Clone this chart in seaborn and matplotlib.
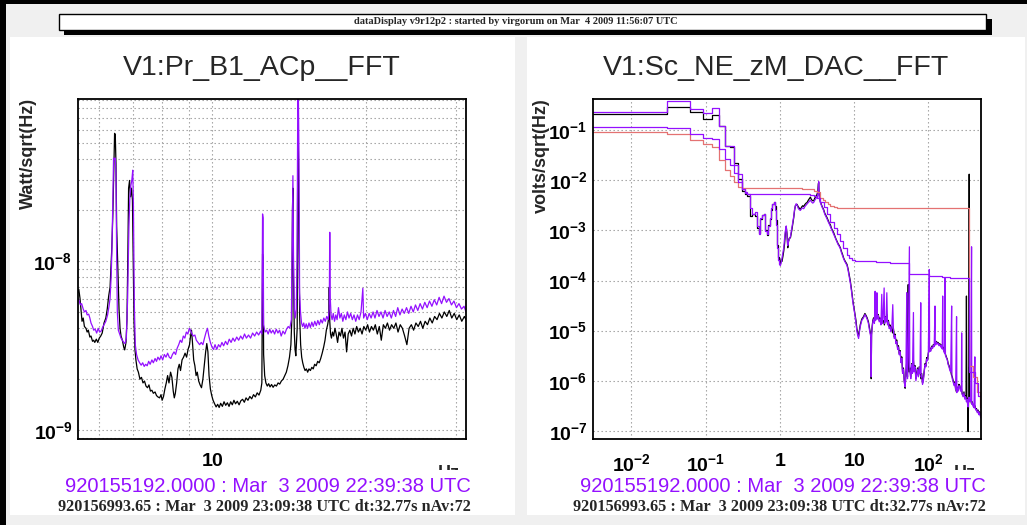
import numpy as np
import pandas as pd
import matplotlib
matplotlib.use("Agg")
import matplotlib.pyplot as plt
import seaborn as sns
from matplotlib.ticker import FixedLocator, LogLocator, NullFormatter, FuncFormatter
from matplotlib.patches import Rectangle

# ---------------- data: left panel (V1:Pr_B1_ACp__FFT) ----------------
left_black_freq = [5.47, 5.49, 5.52, 5.54, 5.57, 5.60, 5.63, 5.67, 5.70, 5.73, 5.77, 5.80, 5.84, 5.87, 5.90,
    5.94, 5.98, 6.02, 6.06, 6.10, 6.15, 6.20, 6.24, 6.28, 6.32, 6.35, 6.37, 6.40, 6.42, 6.45, 6.47, 6.49,
    6.51, 6.55, 6.58, 6.61, 6.64, 6.68, 6.72, 6.75, 6.79, 6.82, 6.85, 6.87, 6.90, 6.93, 6.96, 6.99, 7.02,
    7.04, 7.07, 7.10, 7.14, 7.18, 7.23, 7.28, 7.33, 7.38, 7.43, 7.48, 7.53, 7.58, 7.63, 7.68, 7.74, 7.79,
    7.84, 7.90, 7.95, 7.99, 8.04, 8.09, 8.14, 8.19, 8.24, 8.30, 8.35, 8.40, 8.44, 8.48, 8.53, 8.58, 8.63,
    8.68, 8.74, 8.80, 8.86, 8.92, 8.98, 9.04, 9.08, 9.12, 9.16, 9.21, 9.26, 9.31, 9.36, 9.42, 9.48, 9.54,
    9.60, 9.66, 9.72, 9.77, 9.82, 9.87, 9.93, 9.99, 10.05, 10.12, 10.19, 10.26, 10.33, 10.40, 10.48, 10.56,
    10.64, 10.72, 10.80, 10.88, 10.96, 11.04, 11.12, 11.21, 11.30, 11.39, 11.48, 11.57, 11.66, 11.76,
    11.86, 11.96, 12.06, 12.16, 12.26, 12.36, 12.46, 12.52, 12.56, 12.59, 12.62, 12.68, 12.75, 12.83,
    12.91, 12.99, 13.08, 13.17, 13.27, 13.37, 13.47, 13.57, 13.67, 13.78, 13.88, 13.98, 14.08, 14.18,
    14.27, 14.33, 14.37, 14.40, 14.44, 14.49, 14.54, 14.59, 14.64, 14.68, 14.72, 14.76, 14.80, 14.85,
    14.91, 14.98, 15.05, 15.13, 15.21, 15.30, 15.39, 15.48, 15.58, 15.68, 15.78, 15.88, 15.99, 16.10,
    16.21, 16.32, 16.43, 16.54, 16.64, 16.74, 16.84, 16.92, 16.96, 17.00, 17.06, 17.13, 17.21, 17.30,
    17.40, 17.50, 17.61, 17.72, 17.84, 17.96, 18.08, 18.21, 18.34, 18.47, 18.61, 18.75, 18.89, 19.04,
    19.19, 19.34, 19.50, 19.66, 19.82, 19.99, 20.16, 20.33, 20.51, 20.69, 20.87, 21.06, 21.25, 21.44,
    21.64, 21.84, 22.04, 22.25, 22.46, 22.68, 22.90, 23.12, 23.35, 23.58, 23.82, 24.06, 24.30, 24.55,
    24.80, 25.06, 25.32, 25.58, 25.85, 26.12, 26.40, 26.68, 26.97, 27.26, 27.56, 27.86, 28.17, 28.48,
    28.80, 29.12, 29.45, 29.78, 30.12, 30.46, 30.81, 31.17, 31.40]
left_black_amp = [6.5e-9, 6.8e-9, 6.0e-9, 5.3e-9, 4.4e-9, 4.6e-9, 4.1e-9, 4.0e-9, 3.8e-9, 3.9e-9, 3.55e-9,
    3.6e-9, 3.35e-9, 3.4e-9, 3.3e-9, 3.45e-9, 3.3e-9, 3.5e-9, 3.6e-9, 3.75e-9, 4.3e-9, 4.6e-9, 5.2e-9,
    6.2e-9, 7.0e-9, 9.5e-9, 1.2e-8, 1.9e-8, 3.0e-8, 5.7e-8, 5.6e-8, 3.8e-8, 1.6e-8, 8.3e-9, 5.2e-9,
    4.0e-9, 3.6e-9, 3.4e-9, 3.1e-9, 2.98e-9, 3.3e-9, 4.5e-9, 1.2e-8, 2.7e-8, 3.0e-8, 2.4e-8, 2.7e-8,
    2.3e-8, 9.0e-9, 4.36e-9, 3.0e-9, 2.6e-9, 2.3e-9, 2.2e-9, 2.0e-9, 2.05e-9, 1.9e-9, 1.95e-9, 1.82e-9,
    1.78e-9, 1.85e-9, 1.7e-9, 1.72e-9, 1.65e-9, 1.68e-9, 1.6e-9, 1.57e-9, 1.55e-9, 1.62e-9, 1.50e-9,
    1.58e-9, 1.75e-9, 1.9e-9, 2.1e-9, 1.9e-9, 2.2e-9, 2.05e-9, 1.7e-9, 1.55e-9, 1.65e-9, 1.9e-9, 2.3e-9,
    2.45e-9, 2.25e-9, 2.6e-9, 2.7e-9, 2.85e-9, 2.7e-9, 3.0e-9, 3.2e-9, 3.6e-9, 3.9e-9, 3.3e-9, 2.6e-9,
    2.4e-9, 2.1e-9, 2.2e-9, 1.95e-9, 1.85e-9, 1.78e-9, 2.0e-9, 2.4e-9, 2.9e-9, 3.25e-9, 2.9e-9, 2.1e-9,
    1.75e-9, 1.6e-9, 1.5e-9, 1.43e-9, 1.37e-9, 1.42e-9, 1.36e-9, 1.44e-9, 1.38e-9, 1.47e-9, 1.40e-9,
    1.45e-9, 1.38e-9, 1.47e-9, 1.41e-9, 1.50e-9, 1.43e-9, 1.48e-9, 1.41e-9, 1.49e-9, 1.52e-9, 1.46e-9,
    1.55e-9, 1.50e-9, 1.58e-9, 1.53e-9, 1.62e-9, 1.57e-9, 1.66e-9, 1.61e-9, 1.72e-9, 1.9e-9, 1.1e-8,
    1.05e-8, 2.8e-9, 2.1e-9, 1.9e-9, 1.82e-9, 1.88e-9, 1.8e-9, 1.86e-9, 1.79e-9, 1.85e-9, 1.82e-9, 1.9e-9,
    1.87e-9, 1.95e-9, 2.0e-9, 2.1e-9, 2.2e-9, 2.4e-9, 2.7e-9, 3.2e-9, 4.5e-9, 2.0e-8, 2.7e-8, 8.0e-9,
    3.8e-9, 3.0e-9, 2.75e-9, 3.4e-9, 4.0e-9, 5.6e-8, 4.5e-8, 1.2e-8, 4.5e-9, 3.2e-9, 2.7e-9, 2.5e-9,
    2.35e-9, 2.25e-9, 2.3e-9, 2.2e-9, 2.3e-9, 2.25e-9, 2.35e-9, 2.3e-9, 2.45e-9, 2.4e-9, 2.55e-9, 2.5e-9,
    2.65e-9, 2.85e-9, 3.1e-9, 3.4e-9, 3.9e-9, 4.2e-9, 4.6e-9, 7.0e-9, 4.4e-9, 3.7e-9, 3.5e-9, 3.8e-9,
    3.6e-9, 4.0e-9, 3.7e-9, 3.3e-9, 3.8e-9, 3.6e-9, 4.0e-9, 3.5e-9, 3.8e-9, 2.9e-9, 3.7e-9, 3.9e-9,
    3.6e-9, 4.0e-9, 3.7e-9, 4.1e-9, 3.8e-9, 4.0e-9, 3.7e-9, 4.1e-9, 3.9e-9, 4.2e-9, 3.8e-9, 4.1e-9,
    3.9e-9, 4.2e-9, 3.7e-9, 4.1e-9, 3.4e-9, 4.2e-9, 4.0e-9, 4.3e-9, 3.9e-9, 4.2e-9, 4.0e-9, 4.3e-9,
    3.8e-9, 4.2e-9, 4.0e-9, 3.6e-9, 3.2e-9, 4.0e-9, 4.2e-9, 3.9e-9, 4.3e-9, 4.1e-9, 4.4e-9, 4.0e-9,
    4.4e-9, 4.2e-9, 4.6e-9, 4.3e-9, 4.7e-9, 4.5e-9, 4.9e-9, 4.6e-9, 5.0e-9, 4.7e-9, 5.1e-9, 4.6e-9,
    4.9e-9, 4.5e-9, 4.8e-9, 4.4e-9, 4.7e-9, 4.5e-9]

left_purple_freq = [5.47, 5.50, 5.53, 5.56, 5.60, 5.63, 5.67, 5.70, 5.74, 5.77, 5.80, 5.84, 5.87, 5.91,
    5.95, 5.99, 6.03, 6.07, 6.11, 6.15, 6.20, 6.25, 6.29, 6.32, 6.35, 6.37, 6.40, 6.42, 6.45, 6.47, 6.49,
    6.51, 6.53, 6.56, 6.60, 6.64, 6.68, 6.72, 6.76, 6.80, 6.84, 6.88, 6.91, 6.94, 6.97, 7.00, 7.02, 7.05,
    7.08, 7.12, 7.17, 7.22, 7.27, 7.32, 7.37, 7.42, 7.47, 7.52, 7.57, 7.63, 7.68, 7.74, 7.79, 7.84, 7.90,
    7.95, 8.01, 8.07, 8.13, 8.19, 8.25, 8.31, 8.37, 8.43, 8.49, 8.55, 8.61, 8.67, 8.73, 8.79, 8.85, 8.91,
    8.97, 9.03, 9.08, 9.14, 9.20, 9.26, 9.32, 9.39, 9.46, 9.53, 9.60, 9.67, 9.74, 9.80, 9.86, 9.93, 10.00,
    10.07, 10.14, 10.22, 10.30, 10.38, 10.46, 10.54, 10.63, 10.72, 10.81, 10.90, 10.99, 11.08, 11.18,
    11.28, 11.38, 11.48, 11.58, 11.68, 11.79, 11.90, 12.01, 12.12, 12.23, 12.34, 12.45, 12.52, 12.56,
    12.59, 12.62, 12.70, 12.79, 12.88, 12.97, 13.06, 13.16, 13.26, 13.36, 13.46, 13.56, 13.66, 13.77,
    13.88, 13.99, 14.10, 14.20, 14.30, 14.36, 14.40, 14.44, 14.49, 14.55, 14.62, 14.67, 14.72, 14.76,
    14.80, 14.84, 14.90, 14.97, 15.04, 15.12, 15.20, 15.29, 15.38, 15.48, 15.58, 15.68, 15.78, 15.89,
    16.00, 16.11, 16.22, 16.33, 16.44, 16.55, 16.66, 16.77, 16.88, 16.96, 17.00, 17.04, 17.10, 17.18,
    17.27, 17.37, 17.47, 17.57, 17.68, 17.79, 17.91, 18.03, 18.15, 18.28, 18.41, 18.54, 18.68, 18.82,
    18.96, 19.11, 19.26, 19.41, 19.57, 19.73, 19.80, 19.96, 20.13, 20.30, 20.48, 20.66, 20.84, 21.03,
    21.22, 21.41, 21.61, 21.81, 22.01, 22.22, 22.43, 22.65, 22.87, 23.09, 23.32, 23.55, 23.78, 24.02,
    24.26, 24.51, 24.76, 25.01, 25.27, 25.54, 25.81, 26.08, 26.36, 26.64, 26.93, 27.22, 27.52, 27.82,
    28.13, 28.44, 28.76, 29.08, 29.41, 29.74, 30.08, 30.42, 30.77, 31.12, 31.40]
left_purple_amp = [6.0e-9, 5.8e-9, 5.5e-9, 5.6e-9, 5.2e-9, 5.0e-9, 5.1e-9, 4.8e-9, 4.85e-9, 4.6e-9, 4.3e-9,
    4.1e-9, 3.9e-9, 3.95e-9, 3.75e-9, 4.0e-9, 3.8e-9, 3.85e-9, 4.05e-9, 4.2e-9, 4.4e-9, 4.8e-9, 5.4e-9,
    6.0e-9, 8.0e-9, 1.1e-8, 2.3e-8, 4.07e-8, 4.0e-8, 4.07e-8, 3.3e-8, 1.1e-8, 5.0e-9, 3.9e-9, 3.7e-9,
    3.5e-9, 3.4e-9, 3.3e-9, 3.25e-9, 3.5e-9, 6.0e-9, 1.6e-8, 2.4e-8, 2.8e-8, 3.0e-8, 3.45e-8, 2.2e-8,
    5.5e-9, 3.2e-9, 2.8e-9, 2.6e-9, 2.5e-9, 2.42e-9, 2.5e-9, 2.38e-9, 2.45e-9, 2.4e-9, 2.55e-9, 2.45e-9,
    2.6e-9, 2.5e-9, 2.65e-9, 2.55e-9, 2.7e-9, 2.6e-9, 2.75e-9, 2.6e-9, 2.8e-9, 2.7e-9, 2.85e-9, 2.7e-9,
    2.65e-9, 2.8e-9, 2.9e-9, 2.8e-9, 3.05e-9, 3.2e-9, 3.4e-9, 3.3e-9, 3.6e-9, 3.5e-9, 3.8e-9, 3.7e-9,
    4.0e-9, 3.9e-9, 3.7e-9, 3.6e-9, 3.65e-9, 3.4e-9, 3.3e-9, 3.2e-9, 3.3e-9, 3.2e-9, 3.5e-9, 3.8e-9,
    4.0e-9, 3.6e-9, 3.3e-9, 3.1e-9, 3.0e-9, 3.2e-9, 3.0e-9, 3.2e-9, 3.1e-9, 3.3e-9, 3.15e-9, 3.35e-9,
    3.2e-9, 3.45e-9, 3.3e-9, 3.5e-9, 3.35e-9, 3.55e-9, 3.4e-9, 3.6e-9, 3.45e-9, 3.7e-9, 3.5e-9, 3.65e-9,
    3.5e-9, 3.75e-9, 3.6e-9, 3.8e-9, 3.65e-9, 3.85e-9, 3.7e-9, 1.9e-8, 1.8e-8, 4.2e-9, 3.8e-9, 3.9e-9,
    3.7e-9, 3.95e-9, 3.75e-9, 3.9e-9, 3.7e-9, 3.95e-9, 3.75e-9, 3.9e-9, 3.6e-9, 3.85e-9, 3.7e-9, 3.95e-9,
    4.1e-9, 4.0e-9, 4.5e-9, 1.5e-8, 3.2e-8, 1.0e-8, 5.2e-9, 4.6e-9, 5.2e-9, 1.0e-8, 9.5e-8, 9.5e-8,
    4.0e-8, 6.5e-9, 5.0e-9, 4.3e-9, 4.1e-9, 4.3e-9, 4.0e-9, 4.25e-9, 4.0e-9, 4.3e-9, 4.05e-9, 4.35e-9,
    4.1e-9, 4.4e-9, 4.15e-9, 4.45e-9, 4.2e-9, 4.5e-9, 4.3e-9, 4.6e-9, 4.4e-9, 4.7e-9, 4.5e-9, 5.2e-9,
    1.48e-8, 6.0e-9, 4.8e-9, 4.5e-9, 4.9e-9, 4.4e-9, 4.8e-9, 4.5e-9, 5.3e-9, 4.6e-9, 4.9e-9, 4.4e-9,
    4.8e-9, 4.5e-9, 5.0e-9, 4.6e-9, 4.9e-9, 4.5e-9, 4.8e-9, 4.4e-9, 4.8e-9, 4.5e-9, 5.0e-9, 6.9e-9,
    4.6e-9, 4.9e-9, 4.5e-9, 4.9e-9, 4.6e-9, 5.0e-9, 4.6e-9, 5.1e-9, 4.7e-9, 5.0e-9, 4.6e-9, 5.1e-9,
    4.7e-9, 5.0e-9, 4.6e-9, 5.1e-9, 4.7e-9, 5.3e-9, 4.8e-9, 5.2e-9, 4.9e-9, 5.3e-9, 4.9e-9, 5.4e-9,
    5.0e-9, 5.5e-9, 5.1e-9, 5.6e-9, 5.2e-9, 5.7e-9, 5.3e-9, 5.8e-9, 5.4e-9, 5.9e-9, 5.5e-9, 6.1e-9,
    5.6e-9, 6.2e-9, 5.7e-9, 6.0e-9, 5.5e-9, 5.8e-9, 5.3e-9, 5.6e-9, 5.2e-9, 5.4e-9, 5.0e-9]

# ---------------- data: right panel (V1:Sc_NE_zM_DAC__FFT) ----------------
right_black_freq = [0.00305, 0.0305, 0.0610, 0.0916, 0.1221, 0.1526, 0.1831, 0.2136, 0.2441, 0.2747,
    0.3052, 0.3357, 0.3662, 0.3967, 0.4272, 0.4578, 0.4883, 0.5188, 0.549, 0.580, 0.610, 0.641, 0.671,
    0.702, 0.732, 0.763, 0.793, 0.824, 0.854, 0.885, 0.916, 0.946, 0.977, 1.007, 1.04, 1.07, 1.10, 1.13,
    1.16, 1.19, 1.22, 1.25, 1.28, 1.31, 1.34, 1.39, 1.45, 1.50, 1.54, 1.58, 1.62, 1.66, 1.71, 1.76, 1.82,
    1.89, 1.96, 2.03, 2.10, 2.18, 2.26, 2.33, 2.42, 2.50, 2.58, 2.67, 2.77, 2.86, 2.96, 3.06, 3.17, 3.25,
    3.30, 3.34, 3.38, 3.45, 3.51, 3.62, 3.75, 3.89, 4.03, 4.17, 4.32, 4.47, 4.63, 4.79, 4.96, 5.13, 5.31,
    5.50, 5.69, 5.89, 6.10, 6.31, 6.53, 6.76, 7.00, 7.24, 7.50, 7.76, 8.03, 8.31, 8.60, 8.90, 9.25, 9.65,
    10.0, 10.35, 10.6, 10.9, 11.2, 11.5, 11.8, 12.1, 12.7, 13.4, 14.0, 14.5, 15.0, 15.6, 16.0, 16.4, 16.8,
    17.0, 17.2, 17.5, 17.9, 18.3, 18.8, 19.3, 19.7, 20.2, 20.7, 21.2, 21.8, 22.4, 23.0, 23.6, 24.3, 24.9,
    25.6, 26.3, 27.0, 27.5, 28.2, 29.0, 29.7, 30.5, 31.3, 32.2, 33.0, 33.9, 34.8, 35.7, 36.6, 37.6, 38.6,
    39.6, 40.6, 41.7, 42.8, 43.9, 45.0, 46.2, 47.4, 48.7, 49.9, 51.2, 52.4, 53.6, 54.2, 55.0, 56.7, 58.1,
    59.6, 61.1, 62.9, 64.6, 66.3, 68.0, 69.7, 71.5, 73.4, 75.3, 77.3, 79.3, 81.4, 83.5, 85.7, 88.0, 90.3,
    92.6, 95.0, 97.5, 100, 103, 105, 108, 111, 114, 117, 120, 123, 126, 129, 132, 136, 139, 143, 147, 150,
    154, 158, 162, 166, 171, 176, 180, 185, 190, 195, 200, 205, 210, 216, 222, 228, 233, 239, 245, 252,
    258, 265, 272, 279, 286, 294, 302, 310, 318, 322, 326, 330, 334, 338, 343, 348, 352, 355, 358, 361,
    372, 381, 391, 401, 412, 423, 434, 445, 457, 469, 481, 493, 505, 512]
right_black_amp = [0.21, 0.29, 0.226, 0.163, 0.203, 0.118, 0.048, 0.045, 0.022, 0.0105, 0.0061, 0.0054,
    0.0048, 0.0019, 0.0021, 0.0019, 0.0011, 0.0009, 0.0017, 0.0020, 0.0021, 0.0010, 0.0008, 0.0013,
    0.0017, 0.0026, 0.0034, 0.0037, 0.0030, 0.0016, 0.00050, 0.00030, 0.00024, 0.00021, 0.00026, 0.00024,
    0.00030, 0.00039, 0.00055, 0.00090, 0.0012, 0.00085, 0.00045, 0.00060, 0.00070, 0.00071, 0.0010,
    0.0014, 0.0018, 0.0025, 0.0031, 0.0032, 0.0033, 0.0030, 0.0028, 0.0026, 0.0029, 0.0031, 0.0030,
    0.0033, 0.0035, 0.0036, 0.0040, 0.0043, 0.0046, 0.0041, 0.0039, 0.0039, 0.0044, 0.0048, 0.0052,
    0.0060, 0.0085, 0.0090, 0.0055, 0.0042, 0.0038, 0.0033, 0.0029, 0.0026, 0.0022, 0.0020, 0.0018,
    0.0016, 0.0014, 0.0013, 0.0011, 0.0010, 0.00090, 0.00078, 0.00068, 0.00061, 0.00054, 0.00050,
    0.00045, 0.00038, 0.00033, 0.00028, 0.00025, 0.00023, 0.00021, 0.00017, 0.00013, 9.8e-5, 6.5e-5,
    3.9e-5, 2.8e-5, 2.1e-5, 1.6e-5, 1.1e-5, 9.0e-6, 7.7e-6, 1.0e-5, 1.3e-5, 1.7e-5, 1.9e-5, 2.2e-5,
    2.0e-5, 1.8e-5, 1.5e-5, 1.2e-5, 9.7e-6, 8.0e-6, 1.1e-6, 8.5e-6, 1.2e-5, 1.6e-5, 1.8e-5, 1.5e-5,
    2.0e-5, 1.7e-5, 2.3e-5, 1.8e-5, 2.1e-5, 1.6e-5, 1.8e-5, 1.4e-5, 1.9e-5, 1.5e-5, 1.6e-5, 1.3e-5,
    1.9e-5, 1.6e-5, 2.1e-5, 1.4e-5, 1.6e-5, 1.2e-5, 1.3e-5, 1.0e-5, 1.2e-5, 9.0e-6, 1.1e-5, 7.5e-6,
    8.5e-6, 6.0e-6, 6.5e-6, 4.5e-6, 5.0e-6, 3.5e-6, 4.0e-6, 2.5e-6, 3.0e-6, 1.5e-6, 1.8e-6, 1.0e-6,
    7.1e-7, 1.5e-6, 2.4e-6, 1.2e-6, 8.3e-5, 2.0e-6, 1.5e-6, 1.8e-6, 1.2e-6, 2.2e-6, 1.5e-6, 2.6e-6,
    1.6e-6, 2.0e-6, 1.1e-6, 1.4e-6, 1.8e-6, 1.3e-6, 1.9e-6, 1.5e-6, 1.1e-6, 1.4e-6, 9.0e-7, 1.1e-6,
    1.6e-6, 2.2e-6, 2.0e-6, 2.9e-6, 2.6e-6, 3.6e-6, 4.0e-6, 4.5e-6, 4.1e-6, 4.9e-6, 4.6e-6, 5.3e-6,
    5.0e-6, 5.8e-6, 5.4e-6, 6.1e-6, 5.6e-6, 5.8e-6, 5.2e-6, 5.5e-6, 4.9e-6, 5.2e-6, 4.5e-6, 4.7e-6,
    4.0e-6, 3.7e-6, 3.3e-6, 2.9e-6, 2.7e-6, 2.2e-6, 2.0e-6, 1.7e-6, 1.6e-6, 1.3e-6, 1.2e-6, 1.0e-6,
    8.5e-7, 9.5e-7, 7.0e-7, 6.0e-7, 7.5e-7, 6.5e-7, 8.5e-7, 8.0e-7, 6.5e-7, 7.0e-7, 5.5e-7, 5.0e-7,
    6.0e-7, 4.5e-7, 5.0e-7, 5.0e-7, 4.9e-5, 4.0e-7, 4.5e-7, 3.5e-7, 9.7e-8, 4.0e-7, 5.0e-7, 0.0132,
    4.5e-7, 4.0e-7, 4.2e-7, 3.5e-7, 3.8e-7, 3.3e-7, 3.0e-7, 3.2e-7, 2.7e-7, 2.8e-7, 2.4e-7, 2.6e-7,
    2.2e-7, 2.4e-7, 2.0e-7, 1.9e-7]

right_purple_freq = [0.00305, 0.0305, 0.0610, 0.0916, 0.1221, 0.1526, 0.1831, 0.2136, 0.2441, 0.2747,
    0.3052, 0.3357, 0.3662, 0.3967, 0.4272, 0.4578, 0.4883, 0.5188, 0.549, 0.580, 0.610, 0.641, 0.671,
    0.702, 0.732, 0.763, 0.793, 0.824, 0.854, 0.885, 0.916, 0.946, 0.977, 1.007, 1.04, 1.07, 1.10, 1.13,
    1.16, 1.19, 1.22, 1.25, 1.28, 1.31, 1.34, 1.39, 1.45, 1.50, 1.54, 1.58, 1.62, 1.66, 1.71, 1.76, 1.82,
    1.89, 1.96, 2.03, 2.10, 2.18, 2.26, 2.33, 2.42, 2.50, 2.58, 2.67, 2.77, 2.86, 2.96, 3.06, 3.17, 3.25,
    3.30, 3.34, 3.38, 3.45, 3.51, 3.62, 3.75, 3.89, 4.03, 4.17, 4.32, 4.47, 4.63, 4.79, 4.96, 5.13, 5.31,
    5.50, 5.69, 5.89, 6.10, 6.31, 6.53, 6.76, 7.00, 7.24, 7.50, 7.76, 8.03, 8.31, 8.60, 8.90, 9.25, 9.65,
    10.0, 10.35, 10.6, 10.9, 11.2, 11.5, 11.8, 12.1, 12.7, 13.4, 14.0, 14.5, 15.0, 15.6, 16.0, 16.4, 16.8,
    17.0, 17.2, 17.5, 17.9, 18.3, 18.8, 19.2, 19.5, 20.0, 20.3, 20.6, 21.2, 21.8, 22.4, 23.0, 23.6, 24.0,
    24.6, 25.4, 25.8, 26.5, 27.0, 27.6, 28.2, 29.0, 29.7, 30.5, 31.3, 32.2, 33.2, 33.9, 34.8, 35.7, 36.6,
    37.6, 38.6, 39.6, 40.6, 41.7, 42.8, 43.9, 45.0, 46.2, 47.4, 48.7, 49.9, 51.2, 51.8, 52.4, 53.6, 55.6,
    56.2, 56.7, 58.1, 59.6, 61.1, 63.0, 63.8, 64.6, 66.3, 68.0, 69.7, 71.5, 73.4, 75.3, 77.3, 79.0, 80.0,
    81.4, 83.5, 85.7, 88.0, 90.3, 92.6, 95.0, 97.5, 100, 103, 104, 105, 108, 111, 114, 117, 120, 123, 124,
    126, 129, 132, 136, 139, 143, 147, 150, 154, 156, 158, 162, 166, 168, 170, 176, 180, 185, 190, 195,
    200, 206, 208, 210, 216, 222, 228, 233, 240, 242, 245, 252, 258, 265, 272, 279, 281, 284, 294, 302,
    310, 318, 326, 334, 338, 343, 348, 352, 358, 361, 372, 382, 384, 391, 401, 412, 423, 426, 434, 445,
    457, 469, 481, 493, 505, 512]
right_purple_amp = [0.226, 0.374, 0.263, 0.216, 0.271, 0.122, 0.0486, 0.0486, 0.020, 0.0132, 0.0066,
    0.0055, 0.0052, 0.0028, 0.0021, 0.0023, 0.0012, 0.00085, 0.0018, 0.0020, 0.0021, 0.00097, 0.00083,
    0.0012, 0.0018, 0.0028, 0.0034, 0.0037, 0.0026, 0.0013, 0.00045, 0.00026, 0.00021, 0.00020, 0.00022,
    0.00028, 0.00035, 0.00045, 0.00070, 0.00100, 0.00122, 0.00080, 0.00050, 0.00061, 0.00065, 0.00075,
    0.0011, 0.0015, 0.0019, 0.0026, 0.0031, 0.0034, 0.0032, 0.0028, 0.0026, 0.0025, 0.0027, 0.0028,
    0.0027, 0.0030, 0.0032, 0.0034, 0.0036, 0.0038, 0.0040, 0.0037, 0.0035, 0.0036, 0.0040, 0.0043,
    0.0046, 0.0050, 0.0070, 0.0094, 0.0052, 0.0040, 0.0036, 0.0032, 0.0028, 0.0025, 0.0021, 0.0019,
    0.0017, 0.0015, 0.00135, 0.0012, 0.00105, 0.00095, 0.00085, 0.00075, 0.00066, 0.00058, 0.00052,
    0.00048, 0.00043, 0.00036, 0.00031, 0.00027, 0.00024, 0.00022, 0.00020, 0.00016, 0.00012, 9.0e-5,
    6.0e-5, 3.6e-5, 2.6e-5, 1.9e-5, 1.4e-5, 1.0e-5, 8.0e-6, 7.0e-6, 9.5e-6, 1.2e-5, 1.6e-5, 1.8e-5,
    2.1e-5, 1.9e-5, 1.7e-5, 1.4e-5, 1.1e-5, 9.0e-6, 7.5e-6, 1.2e-6, 8.0e-6, 1.1e-5, 1.5e-5, 1.7e-5,
    1.4e-5, 6.1e-5, 1.6e-5, 2.1e-5, 5.7e-5, 1.7e-5, 2.0e-5, 1.5e-5, 1.7e-5, 1.3e-5, 5.3e-5, 1.4e-5,
    1.8e-5, 7.1e-5, 1.4e-5, 1.8e-5, 1.5e-5, 5.7e-5, 1.3e-5, 1.5e-5, 1.1e-5, 1.2e-5, 9.5e-6, 1.1e-5,
    3.3e-5, 1.0e-5, 7.0e-6, 8.0e-6, 5.5e-6, 6.0e-6, 4.2e-6, 4.7e-6, 3.3e-6, 3.8e-6, 2.3e-6, 2.8e-6,
    1.4e-6, 1.7e-6, 9.5e-7, 7.5e-7, 1.4e-6, 5.7e-5, 2.2e-6, 1.1e-6, 3.0e-6, 4.7e-4, 1.9e-6, 1.4e-6,
    1.1e-6, 2.1e-6, 1.4e-6, 2.3e-5, 1.5e-6, 1.8e-6, 1.9e-6, 1.0e-6, 1.3e-6, 1.7e-6, 1.2e-6, 1.8e-6,
    1.4e-6, 3.6e-5, 1.2e-6, 1.3e-6, 8.5e-7, 1.0e-6, 1.5e-6, 2.1e-6, 1.9e-6, 2.7e-6, 2.5e-6, 3.4e-6,
    1.66e-4, 3.8e-6, 4.3e-6, 3.9e-6, 4.7e-6, 4.4e-6, 5.1e-6, 4.8e-6, 3.1e-5, 5.2e-6, 5.2e-6, 5.9e-6,
    5.4e-6, 5.6e-6, 5.0e-6, 5.3e-6, 4.7e-6, 5.0e-6, 4.3e-6, 4.9e-5, 4.5e-6, 3.8e-6, 3.5e-6, 1.13e-4,
    3.2e-6, 2.8e-6, 2.6e-6, 2.1e-6, 1.9e-6, 1.6e-6, 1.5e-6, 3.1e-5, 1.2e-6, 1.1e-6, 9.5e-7, 8.0e-7,
    9.0e-7, 6.6e-7, 1.9e-5, 5.8e-7, 7.2e-7, 6.2e-7, 8.0e-7, 7.6e-7, 6.2e-7, 6.6e-7, 9.0e-6, 5.5e-7,
    4.8e-7, 5.7e-7, 4.3e-7, 4.8e-7, 3.8e-7, 4.3e-7, 3.4e-7, 3.0e-7, 3.8e-7, 4.7e-7, 4.3e-7, 3.8e-7,
    4.0e-7, 4.7e-4, 3.4e-7, 3.6e-7, 3.1e-7, 2.9e-7, 3.0e-6, 3.0e-7, 2.6e-7, 2.7e-7, 2.3e-7, 2.5e-7,
    2.1e-7, 2.3e-7, 1.9e-7, 1.8e-7]

right_red_rms_freq = [0.00305, 0.0305, 0.0610, 0.0916, 0.1221, 0.1526, 0.1831, 0.2136, 0.2441, 0.2747,
    0.3052, 0.6, 1.2, 1.7, 2.0, 2.3, 2.58, 2.9, 3.17, 3.5, 3.8, 4.1, 4.5, 4.8, 5.3, 5.9, 10, 100, 355,
    357, 400, 450, 490, 512]
right_red_rms = [0.090, 0.083, 0.063, 0.0525, 0.045, 0.025, 0.0158, 0.0122, 0.0091, 0.0073, 0.0069,
    0.0069, 0.0069, 0.0069, 0.0068, 0.0067, 0.0066, 0.0062, 0.0057, 0.0045, 0.0040, 0.0036, 0.0033,
    0.0031, 0.0029, 0.00284, 0.00284, 0.00284, 0.00284, 2.0e-6, 1.2e-6, 6.0e-7, 3.0e-7, 1.7e-7]

right_purple_rms_freq = [0.00305, 0.0305, 0.0610, 0.0916, 0.1221, 0.1526, 0.1831, 0.2136, 0.2441,
    0.2747, 0.3052, 0.3357, 0.3662, 1.5, 2.0, 2.58, 2.9, 3.17, 3.5, 3.9, 4.3, 4.8, 5.3, 5.9, 6.5, 7.2,
    8.0, 8.6, 9.3, 10.3, 20, 30, 55.6, 103, 151, 195, 355, 357, 420, 470, 505, 512]
right_purple_rms = [0.113, 0.110, 0.083, 0.068, 0.066, 0.042, 0.026, 0.020, 0.0142, 0.0094, 0.0066,
    0.0057, 0.0054, 0.0054, 0.0053, 0.0050, 0.0048, 0.0045, 0.0037, 0.0029, 0.0021, 0.0015, 0.00113,
    0.00083, 0.00061, 0.00045, 0.00033, 0.00028, 0.00026, 0.00024, 0.00023, 0.000226, 0.000132,
    0.000125, 0.000119, 0.000113, 0.000113, 1.5e-6, 9.0e-7, 5.0e-7, 2.5e-7, 2.5e-7]

titles = ["V1:Pr_B1_ACp__FFT", "V1:Sc_NE_zM_DAC__FFT"]
ylabels = ["Watt/sqrt(Hz)", "volts/sqrt(Hz)"]
header = "dataDisplay v9r12p2 : started by virgorum on Mar  4 2009 11:56:07 UTC"
ref_time = "920155192.0000 : Mar  3 2009 22:39:38 UTC"
cur_time = "920156993.65 : Mar  3 2009 23:09:38 UTC dt:32.77s nAv:72"
xunit = "Hz"

# ---------------- style ----------------
sns.set_style("white")
plt.rcParams["font.family"] = ["Liberation Sans", "DejaVu Sans"]
plt.rcParams["mathtext.fontset"] = "custom"
plt.rcParams["mathtext.rm"] = "Liberation Sans"
plt.rcParams["mathtext.bf"] = "Liberation Sans:bold"
plt.rcParams["mathtext.it"] = "Liberation Sans:italic"

PURPLE = "#9410ff"
BLACK = "#000000"
RED = "#e47272"
LW = 0.9

W, H = 1027, 525
fig = plt.figure(figsize=(W / 100, H / 100), dpi=100, facecolor="#f0f0f0")


def fx(px):
    return px / W


def fy(py):
    return 1 - py / H


def rect(x0, y0, x1, y1, **kw):
    r = Rectangle((fx(x0), fy(y1)), (x1 - x0) / W, (y1 - y0) / H, transform=fig.transFigure, **kw)
    fig.patches.append(r)
    return r


# canvas frame and pads
rect(0, 0, W, 4, facecolor="black", edgecolor="none", zorder=-2)
rect(0, 0, 6, H, facecolor="black", edgecolor="none", zorder=-2)
rect(10, 37, 515, 515, facecolor="white", edgecolor="none", zorder=-1)
rect(527, 37, 1025, 515, facecolor="white", edgecolor="none", zorder=-1)

# header box with shadow
rect(64, 19, 992, 35, facecolor="black", edgecolor="none", zorder=1)
rect(59, 14, 986, 30, facecolor="white", edgecolor="black", linewidth=1.0, zorder=2)
fig.text(fx(516), fy(22), header, ha="center", va="center", fontsize=7.5, fontweight="bold",
         family=["Liberation Serif", "DejaVu Serif"], zorder=3)


def decade_label(v, pos):
    e = int(round(np.log10(v)))
    if e == 0:
        return r"$\mathbf{1}$"
    if e == 1:
        return r"$\mathbf{10}$"
    return r"$\mathbf{10^{%d}}$" % e


def style_axes(ax):
    for s in ax.spines.values():
        s.set_visible(True)
        s.set_color("black")
        s.set_linewidth(1.3)
    ax.tick_params(which="both", direction="in", top=False, right=False, colors="black", width=1.3)
    ax.tick_params(which="major", length=11, labelsize=14)
    ax.tick_params(which="minor", length=6)
    ax.tick_params(axis="x", which="major", pad=10)
    ax.tick_params(axis="y", which="major", pad=4)
    ax.set_xlabel("")
    ax.set_ylabel("")


def spectrum(ax, freq, amp, color, split):
    """Histogram steps for the coarse low-frequency bins, plain trace above `split` Hz."""
    f = np.asarray(freq, dtype=float)
    a = np.asarray(amp, dtype=float)
    k = int(np.searchsorted(f, split))
    sns.lineplot(x=f[:k + 1], y=a[:k + 1], ax=ax, color=color, linewidth=LW,
                 estimator=None, sort=False, drawstyle="steps-post")
    sns.lineplot(x=f[k:], y=a[k:], ax=ax, color=color, linewidth=LW,
                 estimator=None, sort=False)


grid_kw = dict(linestyle=(0, (1.2, 2.4)), color="#9a9a9a", linewidth=0.8)

# ---------------- left panel ----------------
axL = fig.add_axes([fx(78), fy(439), (466 - 78) / W, (439 - 99) / H])
axL.set_facecolor("white")
axL.set_xscale("log")
axL.set_yscale("log")
sns.lineplot(x=left_black_freq, y=left_black_amp, ax=axL, color=BLACK, linewidth=LW,
             estimator=None, sort=False)
sns.lineplot(x=left_purple_freq, y=left_purple_amp, ax=axL, color=PURPLE, linewidth=LW,
             estimator=None, sort=False)
axL.set_xlim(5.47, 31.4)
axL.set_ylim(8.85e-10, 9.1e-8)
axL.xaxis.set_major_locator(FixedLocator([10]))
axL.xaxis.set_minor_locator(FixedLocator([6, 7, 8, 9, 20, 30]))
axL.xaxis.set_major_formatter(FuncFormatter(decade_label))
axL.xaxis.set_minor_formatter(NullFormatter())
axL.yaxis.set_major_locator(LogLocator(base=10, numticks=10))
axL.yaxis.set_minor_locator(LogLocator(base=10, subs=np.arange(2, 10), numticks=20))
axL.yaxis.set_major_formatter(FuncFormatter(decade_label))
axL.yaxis.set_minor_formatter(NullFormatter())
axL.grid(True, which="both", **grid_kw)
style_axes(axL)

# ---------------- right panel ----------------
axR = fig.add_axes([fx(593), fy(439), (981 - 593) / W, (439 - 99) / H])
axR.set_facecolor("white")
axR.set_xscale("log")
axR.set_yscale("log")
spectrum(axR, right_black_freq, right_black_amp, BLACK, 1.0)
spectrum(axR, right_purple_freq, right_purple_amp, PURPLE, 1.0)
sns.lineplot(x=right_red_rms_freq, y=right_red_rms, ax=axR, color=RED, linewidth=LW,
             estimator=None, sort=False, drawstyle="steps-post")
sns.lineplot(x=right_purple_rms_freq, y=right_purple_rms, ax=axR, color=PURPLE, linewidth=LW,
             estimator=None, sort=False, drawstyle="steps-post")
axR.set_xlim(0.00305, 512)
axR.set_ylim(6.9e-8, 0.417)
axR.xaxis.set_major_locator(LogLocator(base=10, numticks=12))
axR.xaxis.set_minor_locator(LogLocator(base=10, subs=np.arange(2, 10), numticks=20))
axR.xaxis.set_major_formatter(FuncFormatter(decade_label))
axR.xaxis.set_minor_formatter(NullFormatter())
axR.yaxis.set_major_locator(LogLocator(base=10, numticks=12))
axR.yaxis.set_minor_locator(LogLocator(base=10, subs=np.arange(2, 10), numticks=20))
axR.yaxis.set_major_formatter(FuncFormatter(decade_label))
axR.yaxis.set_minor_formatter(NullFormatter())
axR.grid(True, which="major", **grid_kw)
style_axes(axR)

# ---------------- titles, axis titles, time stamps ----------------
for cx, t in zip([262, 776], titles):
    fig.text(fx(cx), fy(68), t, ha="center", va="center", fontsize=20.5, zorder=3)
for x, lbl in zip([28, 541], ylabels):
    fig.text(fx(x), fy(98), lbl, rotation=90, ha="center", va="top", fontsize=13,
             fontweight="bold", zorder=3)
for x in [449, 965]:
    fig.text(fx(x), fy(465), xunit, ha="center", va="top", fontsize=13, fontweight="bold", zorder=1)
    rect(x - 20, 470, x + 22, 480, facecolor="white", edgecolor="none", zorder=2)
for x in [471, 986]:
    fig.text(fx(x), fy(487), ref_time, ha="right", va="center", fontsize=14.5, color=PURPLE, zorder=3)
    fig.text(fx(x), fy(507), cur_time, ha="right", va="center", fontsize=11.7, fontweight="bold",
             family=["Liberation Serif", "DejaVu Serif"], zorder=3)

fig.savefig("out.png", dpi=100, facecolor=fig.get_facecolor())
